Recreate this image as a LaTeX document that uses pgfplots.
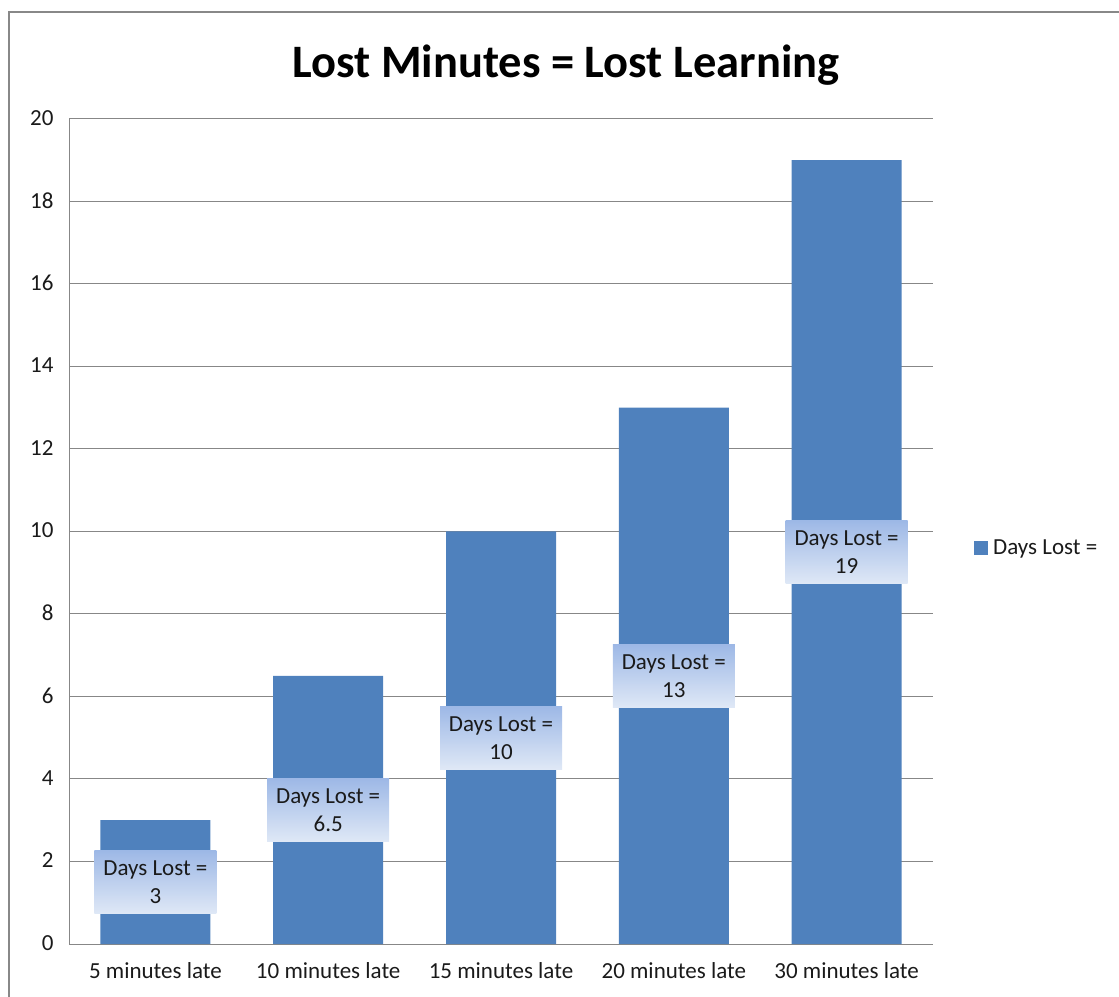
\documentclass[border=0pt]{standalone}
\usepackage{fontspec}
\setmainfont{Carlito}
\usepackage{pgfplots}
\pgfplotsset{compat=1.18}
\definecolor{barblue}{HTML}{4F81BD}
\definecolor{gridgray}{HTML}{878787}
\definecolor{frameg}{HTML}{888888}
\definecolor{labtop}{HTML}{9DB8E6}
\definecolor{labbot}{HTML}{DFE8F6}
\definecolor{txt}{HTML}{1A1A1A}
\begin{document}
\begin{tikzpicture}[x=1pt,y=1pt]
\useasboundingbox (0,0) rectangle (1119,996);
\draw[frameg, line width=2pt] (9,-10) -- (9,984) -- (1130,984);
\node[anchor=base, font=\fontsize{46.5}{52}\selectfont\bfseries, text=black] at (566,918) {Lost Minutes = Lost Learning};
\begin{axis}[
  at={(69pt,52pt)}, anchor=south west,
  width=864pt, height=825pt, scale only axis,
  xmin=-0.5, xmax=4.5, ymin=0, ymax=20,
  xtick={0,1,2,3,4},
  xticklabels={5 minutes late,10 minutes late,15 minutes late,20 minutes late,30 minutes late},
  ytick={0,2,...,20},
  axis x line=bottom, axis y line=left,
  axis line style={draw=gridgray, line width=1pt, -},
  ymajorgrids, grid style={draw=gridgray, line width=1pt},
  major tick length=0pt,
  tick label style={font=\fontsize{23}{26}\selectfont, text=txt},
  /pgf/number format/assume math mode=true,
  yticklabel style={xshift=-12pt, yshift=1pt},
  xticklabel style={yshift=-15pt},
  legend style={at={(1.044,0.48)}, anchor=west, draw=none, fill=none,
    font=\fontsize{23}{26}\selectfont, text=txt},
  legend image code/.code={\fill[barblue] (0pt,-7pt) rectangle (14pt,7pt);},
  legend cell align=left,
  legend style={/tikz/every even column/.append style={column sep=0pt}},
  legend style={nodes={inner xsep=5pt}},
]
\addplot[ybar, bar width=110pt, fill=barblue, draw=none] coordinates {(0,3) (1,6.5) (2,10) (3,13) (4,19)};
\addlegendentry{Days Lost =}
\addplot[draw=none, mark=none, forget plot,
  point meta=explicit symbolic,
  nodes near coords={Days Lost =\\\pgfplotspointmeta},
  every node near coord/.append style={anchor=center, align=center,
    top color=labtop, bottom color=labbot, draw=none,
    minimum width=122pt, minimum height=63pt, inner sep=2pt,
    font=\fontsize{23}{28}\selectfont, text=txt}]
  coordinates {(0,1.5) [3] (1,3.25) [6.5] (2,5) [10] (3,6.5) [13] (4,9.5) [19]};
\end{axis}
\end{tikzpicture}
\end{document}
